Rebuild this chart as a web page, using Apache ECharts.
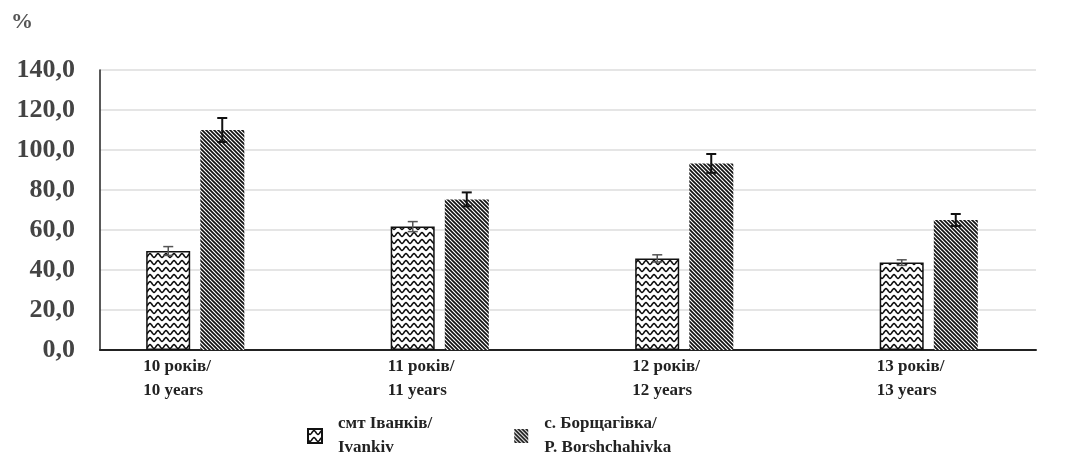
<!DOCTYPE html>
<html><head><meta charset="utf-8">
<script src="https://cdn.jsdelivr.net/npm/echarts@6/dist/echarts.min.js"></script>
<style>html,body{margin:0;padding:0;background:#fff}#c{width:1066px;height:461px}</style>
</head><body><div id="c"></div>
<script>
const categories = ['10 років/\n10 years', '11 років/\n11 years', '12 років/\n12 years', '13 років/\n13 years'];
const seriesNames = ['смт Іванків/\nIvankiv', 'с. Борщагівка/\nP. Borshchahivka'];
const ivankiv = [49.5, 61.7, 45.8, 43.7];
const ivankivErr = [2.2, 2.5, 1.8, 1.4];
const borsh = [110.0, 75.3, 93.3, 65.0];
const borshErr = [6.0, 3.5, 4.7, 3.0];
const yMin = 0, yMax = 140, yStep = 20;

function wavePattern() {
  const c = document.createElement('canvas'); c.width = 8; c.height = 7;
  const g = c.getContext('2d');
  g.fillStyle = '#fff'; g.fillRect(0, 0, 8, 7);
  g.strokeStyle = '#111'; g.lineWidth = 1.6;
  g.beginPath();
  for (let x = -1; x <= 9; x += 0.5) {
    const y = 3.5 + 1.8 * Math.sin(2 * Math.PI * x / 8);
    if (x === -1) g.moveTo(x, y); else g.lineTo(x, y);
  }
  g.stroke();
  return c;
}
function stripePattern() {
  const s = 4;
  const c = document.createElement('canvas'); c.width = s; c.height = s;
  const g = c.getContext('2d');
  g.fillStyle = '#fff'; g.fillRect(0, 0, s, s);
  g.strokeStyle = '#111'; g.lineWidth = 1.7;
  for (let k = -1; k <= 1; k++) {
    g.beginPath(); g.moveTo(k * s - 1, -1); g.lineTo(k * s + s + 1, s + 1); g.stroke();
  }
  return c;
}
const waveFill = { image: wavePattern(), repeat: 'repeat' };
const stripeFill = { image: stripePattern(), repeat: 'repeat' };

function errSeries(vals, errs, dx, color, lw) {
  return {
    type: 'custom', xAxisIndex: 1, yAxisIndex: 1, z: 10, silent: true,
    data: vals.map((v, i) => [i, v, errs[i]]),
    renderItem: function (params, api) {
      const i = api.value(0), v = api.value(1), e = api.value(2);
      const hi = api.coord([i, v + e]), lo = api.coord([i, v - e]);
      const x = hi[0] + dx, cw = 5;
      const st = { stroke: color, lineWidth: lw };
      return { type: 'group', children: [
        { type: 'line', shape: { x1: x, y1: hi[1], x2: x, y2: lo[1] }, style: st },
        { type: 'line', shape: { x1: x - cw, y1: hi[1], x2: x + cw, y2: hi[1] }, style: st },
        { type: 'line', shape: { x1: x - cw, y1: lo[1], x2: x + cw, y2: lo[1] }, style: st }
      ]};
    }
  };
}

const chart = echarts.init(document.getElementById('c'));
chart.setOption({
  animation: false,
  backgroundColor: '#fff',
  textStyle: { fontFamily: 'Liberation Serif' },
  graphic: [{ type: 'text', left: 11, top: 11, style: { text: '%', font: 'bold 22px "Liberation Serif"', fill: '#555' } }],
  grid: [
    { left: 100, right: 30, top: 70, bottom: 111 },
    { left: 73, right: 15, top: 70, bottom: 111 }
  ],
  xAxis: [
    { type: 'category', gridIndex: 0, data: categories, axisLine: { lineStyle: { color: '#222', width: 2 } }, axisTick: { show: false }, axisLabel: { show: false } },
    { type: 'category', gridIndex: 1, data: categories, axisLine: { show: false }, axisTick: { show: false },
      axisLabel: { margin: 5, width: 82, padding: [0, 22, 0, 0],
        formatter: v => v.split('\n').map(s => '{a|' + s + '}').join('\n'),
        rich: { a: { align: 'left', fontFamily: 'Liberation Serif', fontWeight: 'bold', fontSize: 17, color: '#222', lineHeight: 24 } } } }
  ],
  yAxis: [
    { type: 'value', gridIndex: 0, min: yMin, max: yMax, interval: yStep,
      axisLine: { show: true, lineStyle: { color: '#222', width: 1.5 } }, axisTick: { show: false },
      splitLine: { lineStyle: { color: '#dcdcdc', width: 1.5 } },
      axisLabel: { margin: 25, fontFamily: 'Liberation Serif', fontWeight: 'bold', fontSize: 26, color: '#444', formatter: v => v.toFixed(1).replace('.', ',') } },
    { type: 'value', gridIndex: 1, min: yMin, max: yMax, interval: yStep, show: false, splitLine: { show: false } }
  ],
  legend: {
    left: 307, top: 412, padding: 0, itemWidth: 14, itemHeight: 14, itemGap: 82, icon: 'rect',
    textStyle: { fontFamily: 'Liberation Serif', fontWeight: 'bold', fontSize: 17, color: '#222', lineHeight: 24, padding: [0, 0, 0, 11] },
    data: seriesNames
  },
  series: [
    { name: seriesNames[0], type: 'bar', xAxisIndex: 1, yAxisIndex: 1, data: ivankiv, barWidth: 44, barGap: '23%',
      itemStyle: { color: waveFill, borderColor: '#111', borderWidth: 1.5 } },
    { name: seriesNames[1], type: 'bar', xAxisIndex: 1, yAxisIndex: 1, data: borsh, barWidth: 44, barGap: '23%',
      itemStyle: { color: stripeFill } },
    errSeries(ivankiv, ivankivErr, -27, '#555', 1.5),
    errSeries(borsh, borshErr, 27, '#111', 2)
  ]
});
</script></body></html>
